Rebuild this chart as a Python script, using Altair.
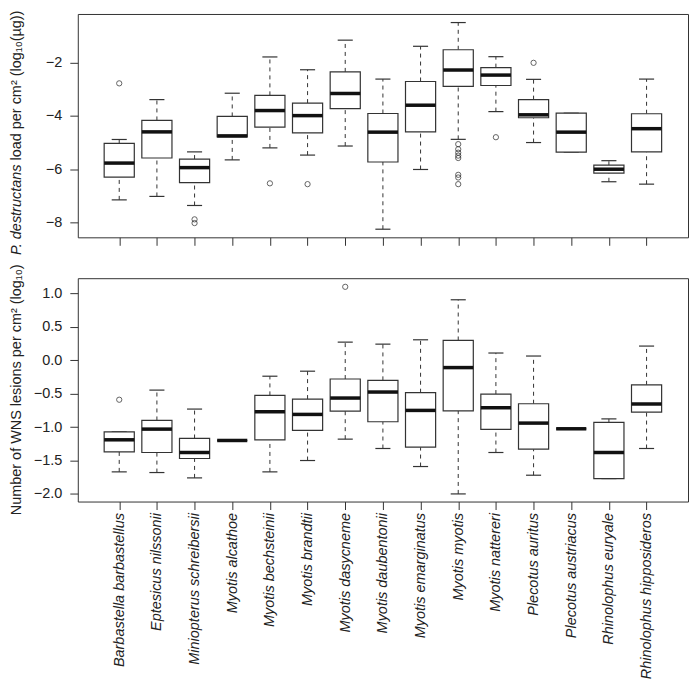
import altair as alt
import pandas as pd

species = ["Barbastella barbastellus", "Eptesicus nilssonii", "Miniopterus schreibersii",
           "Myotis alcathoe", "Myotis bechsteinii", "Myotis brandtii", "Myotis dasycneme",
           "Myotis daubentonii", "Myotis emarginatus", "Myotis myotis", "Myotis nattereri",
           "Plecotus auritus", "Plecotus austriacus", "Rhinolophus euryale",
           "Rhinolophus hipposideros"]

# Top panel: P. destructans load per cm2 (log10 ug)
top_lo = [-7.15, -7.02, -7.36, -5.65, -5.20, -5.47, -5.13, -8.25, -6.01, -4.88, -3.84, -5.00, -5.36, -6.47, -6.56]
top_q1 = [-6.30, -5.58, -6.50, -4.79, -4.42, -4.64, -3.73, -5.73, -4.60, -2.89, -2.86, -4.07, -5.36, -6.15, -5.35]
top_med = [-5.77, -4.60, -5.94, -4.75, -3.80, -3.99, -3.16, -4.61, -3.60, -2.28, -2.47, -3.96, -4.61, -6.00, -4.48]
top_q3 = [-5.03, -4.17, -5.62, -4.02, -3.23, -3.52, -2.35, -3.91, -2.71, -1.52, -2.19, -3.39, -3.90, -5.85, -3.92]
top_hi = [-4.885, -3.39, -5.35, -3.15, -1.79, -2.27, -1.16, -2.62, -1.39, -0.50, -1.78, -2.63, -3.90, -5.68, -2.62]
top_out_idx = [1, 3, 3, 5, 6, 10, 10, 10, 10, 10, 10, 10, 10, 11, 12]
top_out_val = [-2.78, -7.88, -8.02, -6.53, -6.56, -5.06, -5.25, -5.38, -5.49, -5.58, -6.21, -6.31, -6.56, -4.80, -2.01]

# Bottom panel: number of WNS lesions per cm2 (log10)
bot_lo = [-1.67, -1.68, -1.76, -1.20, -1.67, -1.50, -1.18, -1.32, -1.59, -2.00, -1.38, -1.72, -1.025, -1.77, -1.32]
bot_q1 = [-1.37, -1.38, -1.47, -1.20, -1.19, -1.05, -0.76, -0.92, -1.30, -0.758, -1.035, -1.33, -1.025, -1.77, -0.777]
bot_med = [-1.19, -1.03, -1.38, -1.20, -0.77, -0.81, -0.565, -0.475, -0.75, -0.109, -0.71, -0.94, -1.025, -1.38, -0.654]
bot_q3 = [-1.07, -0.90, -1.17, -1.20, -0.525, -0.58, -0.28, -0.30, -0.485, 0.297, -0.505, -0.65, -1.025, -0.93, -0.367]
bot_hi = [-1.07, -0.446, -0.73, -1.20, -0.238, -0.163, 0.272, 0.242, 0.307, 0.906, 0.109, 0.064, -1.025, -0.877, 0.213]
bot_out_idx = [1, 7]
bot_out_val = [-0.59, 1.10]

BOX_HALF = 0.4
CAP_HALF = 0.2
W = 612
H = 224
FONT = "Liberation Sans"
FS = 14.5
INK = "#333333"


def stats_df(lo, q1, med, q3, hi):
    idx = list(range(1, len(species) + 1))
    return pd.DataFrame({
        "idx": idx,
        "box_lo": [i - BOX_HALF for i in idx],
        "box_hi": [i + BOX_HALF for i in idx],
        "cap_lo": [i - CAP_HALF for i in idx],
        "cap_hi": [i + CAP_HALF for i in idx],
        "lo": lo, "q1": q1, "med": med, "q3": q3, "hi": hi,
    })


label_expr = "[" + ",".join("'" + s + "'" for s in species) + "][datum.value - 1]"


def panel(df, out_df, ydom, yvals, yfmt, show_labels, title_parts):
    xs = alt.Scale(domain=[-0.1, 16.1], nice=False, zero=False)
    ys = alt.Scale(domain=ydom, nice=False, zero=False)
    xaxis = alt.Axis(values=list(range(1, 16)), title=None, labels=show_labels,
                     labelExpr=label_expr, labelAngle=270, labelAlign="right",
                     labelBaseline="middle", labelFontStyle="italic", labelPadding=3,
                     labelOverlap=False, labelFlush=False, labelBound=False)
    yaxis = alt.Axis(values=yvals, format=yfmt, title=None, labelPadding=8,
                     labelAngle=0)

    def X(f):
        return alt.X(f + ":Q", scale=xs, axis=xaxis)

    def Y(f):
        return alt.Y(f + ":Q", scale=ys, axis=yaxis)

    base = alt.Chart(df)
    dash = [4, 4]
    w_up = base.mark_rule(color=INK, strokeWidth=1, strokeDash=dash).encode(
        x=X("idx"), y=Y("q3"), y2="hi")
    w_dn = base.mark_rule(color=INK, strokeWidth=1, strokeDash=dash).encode(
        x=X("idx"), y=Y("lo"), y2="q1")
    c_up = base.mark_rule(color=INK, strokeWidth=1.2).encode(
        x=X("cap_lo"), x2="cap_hi", y=Y("hi"))
    c_dn = base.mark_rule(color=INK, strokeWidth=1.2).encode(
        x=X("cap_lo"), x2="cap_hi", y=Y("lo"))
    box = base.mark_rect(fill="white", stroke=INK, strokeWidth=1.2).encode(
        x=X("box_lo"), x2="box_hi", y=Y("q1"), y2="q3")
    med = base.mark_rule(color="#111111", strokeWidth=3.5).encode(
        x=X("box_lo"), x2="box_hi", y=Y("med"))
    outl = alt.Chart(out_df).mark_point(shape="circle", filled=False, size=28,
                                        color="#222222", strokeWidth=1).encode(
        x=X("idx"), y=Y("val"))
    layers = [w_up, w_dn, c_up, c_dn, box, med, outl]
    for txt, style, yv, align in title_parts:
        layers.append(
            alt.Chart(pd.DataFrame({"t": [txt]})).mark_text(
                angle=270, align=align, baseline="middle", font=FONT, fontSize=FS,
                fontStyle=style, color="#222222").encode(
                x=alt.value(-61), y=alt.value(yv), text="t:N"))
    return alt.layer(*layers).properties(width=W, height=H)


top_df = stats_df(top_lo, top_q1, top_med, top_q3, top_hi)
bot_df = stats_df(bot_lo, bot_q1, bot_med, bot_q3, bot_hi)
top_out = pd.DataFrame({"idx": top_out_idx, "val": top_out_val})
bot_out = pd.DataFrame({"idx": bot_out_idx, "val": bot_out_val})

top = panel(top_df, top_out, [-8.554, -0.178], [-8, -6, -4, -2], "d", False,
            [("P. destructans", "italic", 151, "right"),
             ("load per cm² (log₁₀(µg))", "normal", 147, "left")])
bottom = panel(bot_df, bot_out, [-2.114, 1.229], [-2.0, -1.5, -1.0, -0.5, 0.0, 0.5, 1.0],
               ".1f", True,
               [("Number of WNS lesions per cm² (log₁₀)", "normal", H / 2, "center")])

chart = alt.vconcat(top, bottom, spacing=7).properties(
    padding={"top": 0, "left": 0, "right": 0, "bottom": 0}
).configure_view(stroke=INK, strokeWidth=1).configure_axis(
    grid=False, domain=False, tickColor=INK, tickSize=8, tickWidth=1,
    labelFont=FONT, labelFontSize=FS, labelColor="#222222"
)

chart.save("out.html", embed_options={"renderer": "svg", "actions": False})
